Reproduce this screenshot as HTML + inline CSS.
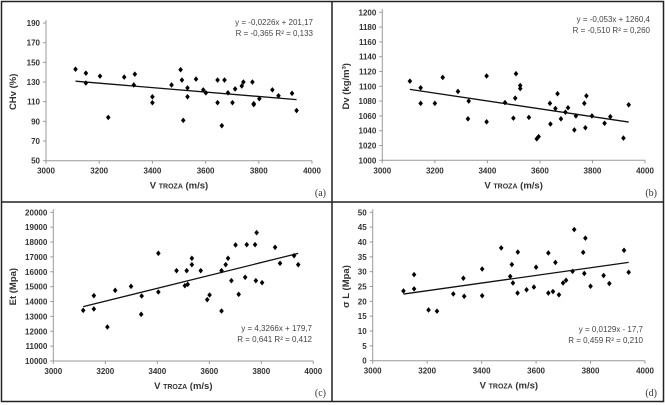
<!DOCTYPE html>
<html><head><meta charset="utf-8"><style>
html,body{margin:0;padding:0;background:#fff;}
svg{display:block;font-family:"Liberation Sans",sans-serif;}
</style></head><body>
<svg id="fig" width="665" height="405" viewBox="0 0 665 405">
<rect x="1.5" y="1.5" width="662" height="400" fill="#fff" stroke="#222" stroke-width="1.5"/>
<line x1="332" y1="1" x2="332" y2="401" stroke="#222" stroke-width="1.5"/>
<line x1="1" y1="202" x2="664" y2="202" stroke="#222" stroke-width="1.5"/>
</svg>
<script>
const xVals=[3111,3150,3150,3203,3234,3294,3330,3334,3400,3400,3472,3506,3511,3516,3532,3532,3564,3591,3601,3645,3645,3661,3671,3684,3701,3711,3736,3742,3776,3781,3781,3802,3851,3874,3925,3942];
const xValsB=[3105,3146,3146,3200,3230,3288,3326,3329,3397,3397,3467,3499,3506,3509,3525,3525,3558,3588,3595,3638,3640,3659,3667,3680,3697,3707,3731,3737,3769,3773,3777,3798,3846,3868,3918,3938];
const xValsC=[3115,3156,3156,3208,3238,3299,3338,3340,3404,3404,3474,3506,3513,3517,3533,3533,3567,3592,3601,3647,3647,3663,3672,3685,3701,3713,3738,3744,3776,3779,3782,3803,3853,3872,3926,3942];
const xValsD=[3113,3152,3152,3205,3236,3296,3333,3336,3402,3402,3472,3505,3511,3515,3532,3533,3565,3592,3600,3645,3645,3662,3671,3684,3699,3710,3734,3740,3773,3777,3781,3800,3848,3869,3923,3940];
const yA=[143,139,129,136,94,135,127,138,115,109,127,142.5,132,91,124,115,133,122,119,132,109,85.6,132,119,109,123,126,130,130,107,108,113,122,116,118.5,101];
const yB=[1107,1098,1077,1077,1112,1093,1056,1080,1114,1052,1078,1057,1084,1117,1101,1097,1058,1029,1032,1077,1049,1070,1090,1056,1065,1071,1041,1060,1077,1044,1087,1060,1050,1059,1030,1075];
const yC=[13408,14395,13498,12287,14753,15022,13139,14372,17242,14641,16076,15067,16076,15157,16906,16480,16076,14126,14439,16076,13363,16480,16906,15404,17803,14484,15628,17825,17825,15404,18632,15269,17646,16570,17085,16480];
const yD=[23.5,29,24.2,17.1,16.7,22.5,27.8,21.7,30.9,21.9,38,28.4,32.4,26.2,22.8,36.6,23.9,24.8,31.5,36.3,22.8,23.3,33.1,22.2,26.2,27.1,30.1,44.2,36.5,29.4,41.3,25.1,28.7,26,37.2,29.8];
const xTicks=[3000,3200,3400,3600,3800,4000];
const yTicksA=[50,70,90,110,130,150,170,190];
const yTicksB=[1000,1020,1040,1060,1080,1100,1120,1140,1160,1180,1200];
const yTicksC=[10000,11000,12000,13000,14000,15000,16000,17000,18000,19000,20000];
const yTicksD=[0,5,10,15,20,25,30,35,40,45,50];
const fitA=[-0.0226,201.17], fitB=[-0.053,1260.4], fitC=[4.3266,179.7], fitD=[0.0129,-17.7];
const eqA=["y = -0,0226x + 201,17","R = -0,365  R² = 0,133"];
const eqB=["y = -0,053x + 1260,4","R = -0,510  R² = 0,260"];
const eqC=["y = 4,3266x + 179,7","R = 0,641  R² = 0,412"];
const eqD=["y = 0,0129x - 17,7","R = 0,459  R² = 0,210"];

const NS="http://www.w3.org/2000/svg";
const svg=document.getElementById('fig');
function mk(tag,attrs,parent,txt){const e=document.createElementNS(NS,tag);for(const k in attrs)e.setAttribute(k,attrs[k]);if(txt!==undefined)e.textContent=txt;(parent||svg).appendChild(e);return e;}

function panel(o){
  const g=mk('g',{});
  
  
  const ymin=o.yt[0],ymax=o.yt[o.yt.length-1];
  const sx=v=>o.x0+(v-3000)/1000*(o.x1-o.x0);
  const sy=v=>o.yb+(v-ymin)/(ymax-ymin)*(o.yt2-o.yb);
  const ax=mk('line',{x1:o.x0,y1:o.yt2-3,x2:o.x0,y2:o.yb,stroke:'#999','stroke-width':1},g);
  
  
  const bx=mk('line',{x1:o.x0,y1:o.yb,x2:o.x1,y2:o.yb,stroke:'#999','stroke-width':1},g);
  
  
  o.yt.forEach(v=>{
    mk('line',{x1:o.x0-3,y1:sy(v),x2:o.x0,y2:sy(v),stroke:'#999'},g);
    const t=mk('text',{x:o.x0-6,y:sy(v)+3,'text-anchor':'end','font-size':'8','font-weight':'bold',fill:'#333'},g,String(v));
    
    
  });
  xTicks.forEach(v=>{
    mk('line',{x1:sx(v),y1:o.yb,x2:sx(v),y2:o.yb+3,stroke:'#999'},g);
    const t=mk('text',{x:sx(v),y:o.yb+13,'text-anchor':'middle','font-size':'8','font-weight':'bold',fill:'#333'},g,String(v));
    
    
  });
  const xt=mk('text',{x:(o.x0+o.x1)/2,y:o.yb+28,'text-anchor':'middle','font-size':'9.5','font-weight':'bold',fill:'#333'},g);
  
  
  mk('tspan',{},xt,'V ');mk('tspan',{'font-size':'7'},xt,'TROZA');mk('tspan',{},xt,'  (m/s)');
  const cy=(o.yb+o.yt2)/2;
  const yt=mk('text',{x:o.tx,y:cy,'text-anchor':'middle','font-size':'9.5','font-weight':'bold',fill:'#333',transform:`rotate(-90 ${o.tx} ${cy})`},g,o.ytitle);
  
  
  const lx0=Math.min(...o.xs),lx1=Math.max(...o.xs);
  const fl=mk('line',{x1:sx(lx0),y1:sy(o.fit[0]*lx0+o.fit[1]),x2:sx(lx1),y2:sy(o.fit[0]*lx1+o.fit[1]),stroke:'#111','stroke-width':1.3},g);
  
  
  o.ys.forEach((v,i)=>{
    const px=sx(o.xs[i]),py=sy(v);
    const p=mk('path',{d:`M${px} ${py-2.8}L${px+2.3} ${py}L${px} ${py+2.8}L${px-2.3} ${py}Z`,fill:'#000'},g);
    
    
  });
  o.eq.forEach((s,i)=>{
    const t=mk('text',{x:o.ex,y:o.ey+i*11,'text-anchor':'end','font-size':'8',fill:'#444'},g,s);
    
    
  });
  const l=mk('text',{x:o.lx,y:o.ly,'text-anchor':'end','font-size':'10','font-family':'Liberation Serif, serif',fill:'#333'},g,'('+o.id+')');
  
  
}
panel({id:'a',x0:46,x1:312,yb:160.7,yt2:23,yt:yTicksA,xs:xVals,ys:yA,fit:fitA,eq:eqA,ex:313,ey:25,tx:16,ytitle:'CHv  (%)',lx:326,ly:196});
panel({id:'b',x0:382.3,x1:645,yb:160.3,yt2:12.3,yt:yTicksB,xs:xValsB,ys:yB,fit:fitB,eq:eqB,ex:650,ey:22,tx:349,ytitle:'Dv  (kg/m³)',lx:657,ly:196});
panel({id:'c',x0:53.3,x1:313.3,yb:361,yt2:212.3,yt:yTicksC,xs:xValsC,ys:yC,fit:fitC,eq:eqC,ex:312,ey:331,tx:16,ytitle:'Et  (Mpa)',lx:326,ly:396});
panel({id:'d',x0:372.7,x1:645,yb:360.7,yt2:212.3,yt:yTicksD,xs:xValsD,ys:yD,fit:fitD,eq:eqD,ex:643,ey:332,tx:349,ytitle:'σ L  (Mpa)',lx:657,ly:396});
</script>
</body></html>
